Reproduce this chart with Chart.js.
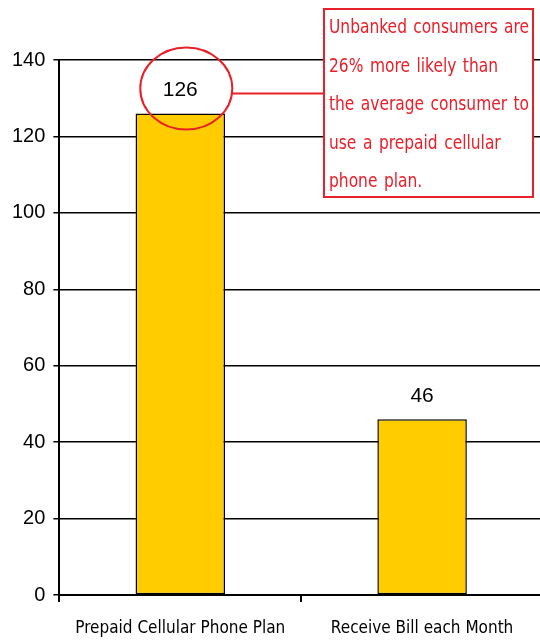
<!DOCTYPE html>
<html>
<head>
<meta charset="utf-8">
<script src="https://cdn.jsdelivr.net/npm/chart.js@4"></script>
<style>
  html, body { margin: 0; padding: 0; background: #fff; overflow: hidden; }
  #wrap { width: 546px; height: 641px; }
</style>
</head>
<body>
<div id="wrap"><canvas id="chart"></canvas></div>
<script>
const categories = ['Prepaid Cellular Phone Plan', 'Receive Bill each Month'];
const indexValues = [126, 46];
const yTicks = [0, 20, 40, 60, 80, 100, 120, 140];
const noteLines = [
  'Unbanked consumers are',
  '26% more likely than',
  'the average consumer to',
  'use a prepaid cellular',
  'phone plan.'
];
// lines of the note that run the full box width
const justifiedLines = [0, 2];

const narrow = '"Liberation Sans Narrow", "DejaVu Sans Condensed", sans-serif';
const red = '#e8202a';

// value labels above bars, plus the circled callout on the first bar
const callout = {
  id: 'callout',
  afterDatasetsDraw(chart) {
    const ctx = chart.ctx;
    const meta = chart.getDatasetMeta(0);
    ctx.save();
    ctx.fillStyle = '#000';
    ctx.font = '21px "Liberation Sans", Arial, sans-serif';
    ctx.textAlign = 'center';
    ctx.textBaseline = 'middle';
    const labelPos = [];
    meta.data.forEach((bar, i) => {
      const y = bar.y - 23;
      ctx.fillText(String(indexValues[i]), bar.x, y);
      labelPos.push({ x: bar.x, y: y });
    });

    // ellipse round the first label
    const c = labelPos[0];
    const cx = c.x + 6, cy = c.y - 2, rx = 46, ry = 41;
    ctx.strokeStyle = red;
    ctx.lineWidth = 2;
    ctx.beginPath();
    ctx.ellipse(cx, cy, rx, ry, 0, 0, Math.PI * 2);
    ctx.stroke();

    // note box
    const bx = 324, by = 9, bw = 209, bh = 188;
    ctx.fillStyle = '#fff';
    ctx.fillRect(bx, by, bw, bh);
    ctx.strokeRect(bx, by, bw, bh);

    ctx.beginPath();
    ctx.moveTo(cx + rx, cy + 5);
    ctx.lineTo(bx, cy + 5);
    ctx.stroke();

    // note text, squeezed horizontally, wide word gaps
    ctx.fillStyle = red;
    ctx.font = '20px ' + narrow;
    ctx.textAlign = 'left';
    ctx.textBaseline = 'alphabetic';
    const sx = 0.86;
    const left = bx + 5, right = bx + bw - 4;
    noteLines.forEach((line, i) => {
      const y = by + 24 + i * 38.5;
      const words = line.split(' ');
      const widths = words.map(w => ctx.measureText(w).width * sx);
      let gap = 6.5;
      if (justifiedLines.includes(i)) {
        const total = widths.reduce((s, w) => s + w, 0);
        gap = (right - left - total) / (words.length - 1);
      }
      let x = left;
      words.forEach((w, k) => {
        ctx.save();
        ctx.translate(x, y);
        ctx.scale(sx, 1);
        ctx.fillText(w, 0, 0);
        ctx.restore();
        x += widths[k] + gap;
      });
    });
    ctx.restore();
  }
};

new Chart(document.getElementById('chart'), {
  type: 'bar',
  data: {
    labels: categories,
    datasets: [{
      data: indexValues,
      backgroundColor: '#ffcc00',
      borderColor: '#000',
      borderWidth: 1.5,
      borderSkipped: false,
      categoryPercentage: 1,
      barPercentage: 0.37
    }]
  },
  options: {
    responsive: true,
    maintainAspectRatio: false,
    animation: false,
    layout: { padding: { top: 60, right: 3, left: 4, bottom: 0 } },
    plugins: { legend: { display: false }, tooltip: { enabled: false } },
    scales: {
      x: {
        afterFit(scale) { scale.height = 46; },
        grid: { drawOnChartArea: false, drawTicks: true, tickLength: 7, color: '#000', lineWidth: 2 },
        border: { color: '#000', width: 2 },
        ticks: { color: '#000', font: { family: narrow, size: 17, lineHeight: 1.2 }, padding: 16, maxRotation: 0 }
      },
      y: {
        min: 0,
        max: 140,
        afterBuildTicks(axis) { axis.ticks = yTicks.map(v => ({ value: v })); },
        grid: { color: '#000', lineWidth: 1.5, tickLength: 6 },
        border: { color: '#000', width: 2 },
        ticks: { color: '#000', font: { family: '"Liberation Sans", Arial, sans-serif', size: 20 }, padding: 8 }
      }
    }
  },
  plugins: [callout]
});
</script>
</body>
</html>
